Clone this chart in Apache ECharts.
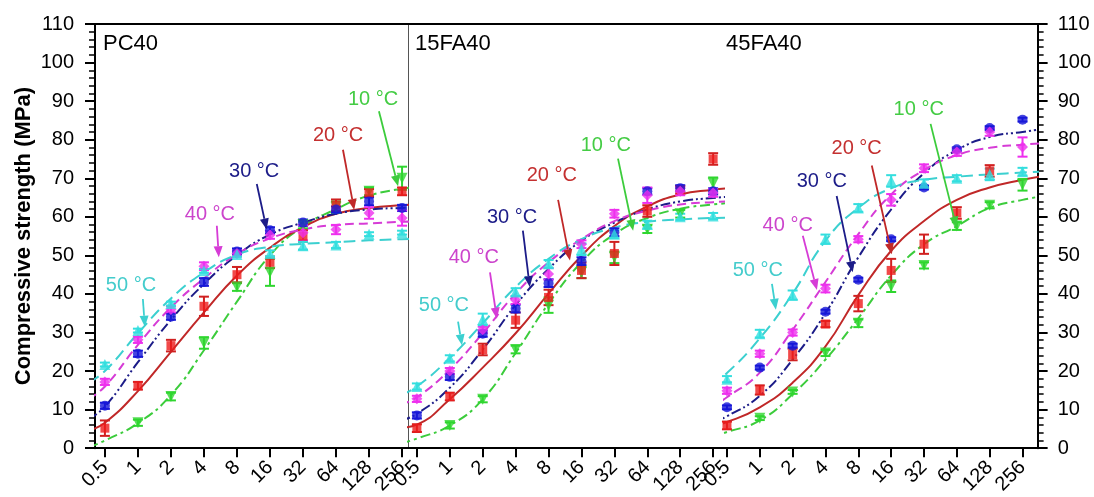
<!DOCTYPE html>
<html><head><meta charset="utf-8">
<script src="https://cdn.jsdelivr.net/npm/echarts@6/dist/echarts.min.js"></script>
<style>html,body{margin:0;padding:0;background:#fff}#c{width:1094px;height:497px}</style>
</head><body><div id="c"></div>
<script>
// ---------- data ----------
const ages = [0.5, 1, 2, 4, 8, 16, 32, 64, 128, 256];
const tickLabels = ['0.5', '1', '2', '4', '8', '16', '32', '64', '128', '256'];
const curveAges = [0.354, 0.5, 1, 2, 4, 8, 16, 32, 64, 128, 256, 362];
const temps = ['10 °C', '20 °C', '30 °C', '40 °C', '50 °C'];
const panelNames = ['PC40', '15FA40', '45FA40'];

// PC40 measured strengths (MPa) at ages
const pc40_10 = [null, 6.6, 13.4, 27.3, 41.8, 45.6, 58.0, 62.5, 66.6, 70.0];
const pc40_20 = [5.2, 16.2, 26.6, 36.8, 45.0, 48.2, 55.0, 63.0, 66.2, 66.6];
const pc40_30 = [11.0, 24.5, 34.1, 43.1, 51.0, 56.5, 58.5, 61.9, 64.0, 62.3];
const pc40_40 = [17.2, 28.1, 36.0, 47.2, 50.5, 55.3, 55.9, 56.7, 61.0, 59.7];
const pc40_50 = [21.7, 30.5, 37.5, 46.0, 50.2, 50.5, 52.5, 52.7, 55.5, 55.9];
const pc40_10_err = [0, 0.8, 1.0, 1.5, 1.0, 3.5, 1.0, 1.5, 1.0, 3.0];
const pc40_20_err = [2.0, 1.0, 1.5, 2.5, 2.0, 1.5, 1.5, 1.5, 1.0, 1.0];
const pc40_30_err = [0.8, 0.8, 0.8, 1.0, 0.8, 0.8, 0.8, 0.8, 1.0, 0.8];
const pc40_40_err = [0.8, 0.8, 0.8, 1.0, 0.8, 1.0, 2.0, 1.2, 1.5, 2.0];
const pc40_50_err = [0.5, 0.5, 0.5, 0.5, 0.5, 0.8, 1.0, 0.8, 0.5, 0.5];
// PC40 fitted curves at curveAges
const pc40_fit_10 = [0.2, 2.0, 6.5, 13.8, 25.4, 38.0, 50.0, 57.5, 62.0, 65.5, 67.3, 67.8];
const pc40_fit_20 = [4.6, 6.6, 14.8, 25.0, 35.2, 44.8, 52.0, 57.3, 60.8, 62.3, 63.0, 63.2];
const pc40_fit_30 = [7.5, 10.8, 22.3, 33.3, 42.6, 50.0, 55.4, 58.5, 60.8, 61.9, 62.3, 62.4];
const pc40_fit_40 = [12.8, 16.0, 26.8, 36.5, 44.0, 50.3, 54.4, 56.7, 57.9, 58.3, 58.7, 58.8];
const pc40_fit_50 = [17.0, 20.0, 29.8, 38.8, 45.6, 50.2, 52.2, 53.0, 53.4, 53.9, 54.2, 54.3];

// 15FA40
const fa15_10 = [null, 5.9, 12.7, 25.6, 37.1, 45.6, 49.5, 56.8, 60.8, 68.7];
const fa15_20 = [5.2, 13.4, 25.6, 33.2, 39.1, 46.1, 50.5, 61.5, 67.0, 75.0];
const fa15_30 = [8.5, 18.5, 29.7, 36.2, 42.8, 48.5, 56.0, 66.6, 67.4, 66.6];
const fa15_40 = [12.8, 20.0, 30.7, 38.4, 45.2, 52.9, 60.8, 65.6, 66.6, 66.2];
const fa15_50 = [16.0, 23.3, 33.4, 40.5, 47.8, 51.6, 55.5, 58.0, 60.0, 60.2];
const fa15_10_err = [0, 0.8, 0.8, 1.0, 2.0, 1.5, 1.5, 1.0, 1.0, 1.5];
const fa15_20_err = [1.0, 1.0, 1.5, 2.0, 2.0, 2.0, 3.0, 1.5, 1.0, 1.5];
const fa15_30_err = [0.8, 0.8, 0.8, 1.0, 1.0, 1.0, 1.0, 0.8, 0.8, 0.8];
const fa15_40_err = [0.8, 0.8, 0.8, 1.0, 1.5, 1.0, 1.0, 2.0, 1.0, 1.0];
const fa15_50_err = [0.8, 0.8, 1.5, 1.0, 1.0, 1.5, 1.0, 1.0, 0.8, 0.8];
const fa15_fit_10 = [1.2, 2.5, 5.9, 12.7, 24.7, 37.5, 48.2, 55.5, 59.7, 62.1, 63.2, 63.6];
const fa15_fit_20 = [5.3, 6.1, 12.7, 20.9, 29.8, 40.1, 49.9, 57.6, 62.7, 65.8, 67.0, 67.4];
const fa15_fit_30 = [7.2, 8.9, 15.7, 25.6, 37.1, 46.5, 53.8, 58.5, 61.9, 64.0, 64.9, 65.2];
const fa15_fit_40 = [11.4, 13.2, 20.4, 29.8, 40.1, 48.2, 54.2, 58.9, 61.6, 63.2, 63.8, 64.0];
const fa15_fit_50 = [13.8, 16.0, 23.4, 32.4, 41.8, 49.1, 54.2, 57.2, 58.7, 59.3, 59.7, 59.8];

// 45FA40
const fa45_10 = [null, 7.8, 14.6, 24.7, 32.4, 42.0, 47.4, 57.6, 63.0, 68.3];
const fa45_20 = [5.9, 15.1, 24.3, 32.2, 37.5, 46.1, 52.9, 61.0, 71.9, null];
const fa45_30 = [10.6, 20.9, 26.6, 35.4, 43.7, 54.2, 67.6, 77.5, 83.0, 85.2];
const fa45_40 = [14.9, 24.5, 30.0, 41.4, 54.2, 64.4, 72.6, 76.8, 82.0, 78.1];
const fa45_50 = [17.9, 29.7, 39.7, 54.2, 62.3, 69.3, 68.7, 70.0, 71.0, 71.7];
const fa45_10_err = [0, 0.5, 0.5, 0.8, 1.0, 1.5, 0.8, 1.0, 0.8, 1.5];
const fa45_20_err = [1.0, 1.2, 1.5, 0.8, 2.0, 3.0, 2.5, 1.5, 1.5, 0];
const fa45_30_err = [0.5, 0.5, 0.5, 0.5, 0.5, 0.5, 0.5, 0.5, 0.5, 0.5];
const fa45_40_err = [0.8, 0.8, 0.8, 1.0, 0.8, 1.5, 1.0, 1.0, 1.0, 2.5];
const fa45_50_err = [0.8, 1.0, 1.2, 1.2, 1.0, 1.5, 1.0, 0.8, 1.5, 1.0];
const fa45_fit_10 = [3.0, 4.2, 7.2, 14.0, 23.0, 33.7, 44.8, 52.9, 57.6, 62.3, 64.4, 65.2];
const fa45_fit_20 = [5.8, 6.8, 10.6, 17.0, 26.4, 39.7, 51.2, 58.9, 64.4, 67.6, 69.6, 70.4];
const fa45_fit_30 = [6.5, 8.3, 13.6, 23.0, 35.0, 49.5, 61.9, 71.3, 77.3, 80.7, 82.0, 82.6];
const fa45_fit_40 = [10.5, 13.2, 19.6, 30.7, 43.1, 55.5, 65.8, 72.1, 76.0, 77.9, 78.7, 79.0];
const fa45_fit_50 = [16.5, 19.5, 28.5, 40.1, 53.8, 62.3, 67.4, 69.6, 70.4, 71.0, 71.5, 71.7];

// ---------- annotations (x in log2(age), y in MPa): text x,y, arrow start x,y, arrow end x,y ----------
const annotPC40 = [
  [7.12, 90.5, 7.30, 87.4, 7.88, 67.9],
  [6.06, 81.0, 6.21, 77.4, 6.55, 61.8],
  [3.52, 71.8, 3.60, 68.5, 3.90, 56.7],
  [2.18, 60.5, 2.39, 57.7, 2.45, 49.5],
  [-0.21, 42.3, 0.15, 38.7, 0.21, 31.5]
];
const annotFA15 = [
  [4.74, 78.5, 5.11, 75.1, 5.57, 56.4],
  [3.10, 70.8, 3.29, 64.4, 3.65, 48.7],
  [1.89, 59.7, 2.22, 56.4, 2.43, 41.8],
  [0.73, 49.5, 1.22, 45.6, 1.43, 33.6],
  [-0.18, 36.9, 0.25, 32.8, 0.37, 26.7]
];
const annotFA45 = [
  [4.84, 87.9, 5.20, 84.1, 5.99, 57.2],
  [2.95, 77.7, 3.41, 73.3, 4.02, 50.3],
  [1.89, 69.2, 2.34, 65.4, 2.83, 45.6],
  [0.85, 57.7, 1.31, 55.1, 1.74, 41.0],
  [-0.06, 46.2, 0.37, 42.6, 0.49, 35.9]
];

// ---------- styling ----------
const FONT = '"Liberation Sans", Arial, sans-serif';
const markerColors = ['#2fd62f', '#ee1c1c', '#1818d8', '#ee2fee', '#33dede'];
const lineColors = ['#3ccc3c', '#c02828', '#1c1c88', '#d63cd6', '#3cd0d0'];
const textColors = ['#44cc44', '#c43030', '#1c1c88', '#cc44cc', '#44cccc'];
const symbols = ['triangle', 'rect', 'circle', 'diamond', 'triangle'];
const symbolRot = [180, 0, 0, 0, 0];
const symbolSizes = [11, 9, 10, 11, 11];
const dashes = [[10, 4, 3, 4], 'solid', [10, 3, 2, 3, 2, 3], [9, 5], [12, 6]];

const panels = [
  { pts: [pc40_10, pc40_20, pc40_30, pc40_40, pc40_50],
    errs: [pc40_10_err, pc40_20_err, pc40_30_err, pc40_40_err, pc40_50_err],
    fits: [pc40_fit_10, pc40_fit_20, pc40_fit_30, pc40_fit_40, pc40_fit_50],
    annot: annotPC40 },
  { pts: [fa15_10, fa15_20, fa15_30, fa15_40, fa15_50],
    errs: [fa15_10_err, fa15_20_err, fa15_30_err, fa15_40_err, fa15_50_err],
    fits: [fa15_fit_10, fa15_fit_20, fa15_fit_30, fa15_fit_40, fa15_fit_50],
    annot: annotFA15 },
  { pts: [fa45_10, fa45_20, fa45_30, fa45_40, fa45_50],
    errs: [fa45_10_err, fa45_20_err, fa45_30_err, fa45_40_err, fa45_50_err],
    fits: [fa45_fit_10, fa45_fit_20, fa45_fit_30, fa45_fit_40, fa45_fit_50],
    annot: annotFA45 }
];

const gridBoxes = [
  { left: 95, top: 24, width: 313, height: 429 },
  { left: 408, top: 24, width: 316, height: 429 },
  { left: 724, top: 24, width: 314, height: 429 }
];
const xRanges = [[-1.30, 8.18], [-1.27, 8.33], [-1.09, 8.46]];
const titlePos = [103, 415, 726];

const tickPos = ages.map(a => Math.log2(a));
function fmtTick(v) {
  const i = Math.round(v) + 1;
  return Math.abs(v - Math.round(v)) < 1e-6 && tickLabels[i] !== undefined ? tickLabels[i] : '';
}

const xAxes = [], xTopAxes = [], yAxes = [], series = [], titles = [];

panels.forEach((p, g) => {
  xAxes.push({
    type: 'value', gridIndex: g, min: xRanges[g][0], max: xRanges[g][1], position: 'bottom',
    axisLine: { show: true, onZero: false, lineStyle: { color: '#000', width: 2 } },
    axisTick: { show: true, customValues: tickPos, length: 9, lineStyle: { color: '#000', width: 2 } },
    axisLabel: { show: true, customValues: tickPos, rotate: 45, margin: 16, formatter: fmtTick,
      fontSize: 20, color: '#000', fontFamily: FONT },
    splitLine: { show: false }
  });
  xTopAxes.push({
    type: 'value', gridIndex: g, min: xRanges[g][0], max: xRanges[g][1], position: 'top',
    axisLine: { show: true, onZero: false, lineStyle: { color: '#000', width: 2 } },
    axisTick: { show: false }, axisLabel: { show: false }, splitLine: { show: false }
  });
  const yBase = {
    type: 'value', gridIndex: g, min: 0, max: 110, interval: 10, splitLine: { show: false }
  };
  if (g === 0) {
    yAxes.push(Object.assign({}, yBase, {
      position: 'left',
      name: 'Compressive strength (MPa)', nameLocation: 'middle', nameGap: 60,
      nameTextStyle: { fontSize: 22, fontWeight: 'bold', color: '#000', fontFamily: FONT },
      axisLine: { show: true, onZero: false, lineStyle: { color: '#000', width: 2 } },
      axisTick: { show: true, length: 10, lineStyle: { color: '#000', width: 2 } },
      minorTick: { show: true, splitNumber: 5, length: 6, lineStyle: { color: '#000', width: 1.5 } },
      axisLabel: { fontSize: 20, color: '#000', fontFamily: FONT, margin: 21 }
    }));
  } else if (g === 1) {
    yAxes.push(Object.assign({}, yBase, {
      position: 'left',
      axisLine: { show: true, onZero: false, lineStyle: { color: '#555', width: 1 } },
      axisTick: { show: false }, axisLabel: { show: false }
    }));
  } else {
    yAxes.push(Object.assign({}, yBase, {
      position: 'right',
      axisLine: { show: true, onZero: false, lineStyle: { color: '#000', width: 2 } },
      axisTick: { show: true, length: 10, lineStyle: { color: '#000', width: 2 } },
      minorTick: { show: true, splitNumber: 5, length: 6, lineStyle: { color: '#000', width: 1.5 } },
      axisLabel: { fontSize: 20, color: '#000', fontFamily: FONT, margin: 20 }
    }));
  }
  titles.push({
    text: panelNames[g], left: titlePos[g], top: 33, padding: 0,
    textStyle: { fontSize: 22, fontWeight: 'normal', color: '#000', fontFamily: FONT }
  });

  for (let t = 0; t < 5; t++) {
    // fitted curve
    series.push({
      type: 'line', xAxisIndex: g, yAxisIndex: g, showSymbol: false, silent: true,
      smooth: 0.5, z: 2,
      data: curveAges.map((a, i) => [Math.log2(a), p.fits[t][i]]),
      lineStyle: { color: lineColors[t], width: 2, type: dashes[t] }
    });
    // error bars
    const errData = [];
    ages.forEach((a, i) => { if (p.pts[t][i] != null) errData.push([Math.log2(a), p.pts[t][i], p.errs[t][i]]); });
    const ec = t === 1 ? '#d02020' : markerColors[t];
    series.push({
      type: 'custom', xAxisIndex: g, yAxisIndex: g, z: 3, silent: true,
      encode: { x: 0, y: 1 }, data: errData,
      renderItem: (params, api) => {
        const x = api.value(0), y = api.value(1), e = api.value(2);
        if (!e) return null;
        const lo = api.coord([x, y - e]), hi = api.coord([x, y + e]);
        const w = 5;
        const st = { stroke: ec, lineWidth: 2 };
        return { type: 'group', children: [
          { type: 'line', shape: { x1: lo[0], y1: lo[1], x2: hi[0], y2: hi[1] }, style: st },
          { type: 'line', shape: { x1: lo[0] - w, y1: lo[1], x2: lo[0] + w, y2: lo[1] }, style: st },
          { type: 'line', shape: { x1: hi[0] - w, y1: hi[1], x2: hi[0] + w, y2: hi[1] }, style: st }
        ] };
      }
    });
    // markers
    const ptData = [];
    ages.forEach((a, i) => { if (p.pts[t][i] != null) ptData.push([Math.log2(a), p.pts[t][i]]); });
    series.push({
      type: 'scatter', xAxisIndex: g, yAxisIndex: g, z: 4, silent: true,
      symbol: symbols[t], symbolRotate: symbolRot[t], symbolSize: symbolSizes[t],
      itemStyle: { color: markerColors[t] }, data: ptData
    });
  }
  // annotations
  series.push({
    type: 'custom', xAxisIndex: g, yAxisIndex: g, z: 10, silent: true,
    encode: { x: 0, y: 1 },
    data: p.annot.map((a, i) => a.concat([i])),
    renderItem: (params, api) => {
      const i = api.value(6);
      const tp = api.coord([api.value(0), api.value(1)]);
      const s = api.coord([api.value(2), api.value(3)]);
      const e = api.coord([api.value(4), api.value(5)]);
      const ang = Math.atan2(e[1] - s[1], e[0] - s[0]);
      const L = 11, W = 4.5;
      const bx = e[0] - L * Math.cos(ang), by = e[1] - L * Math.sin(ang);
      const head = [[e[0], e[1]],
        [bx - W * Math.sin(ang), by + W * Math.cos(ang)],
        [bx + W * Math.sin(ang), by - W * Math.cos(ang)]];
      return { type: 'group', children: [
        { type: 'text', x: tp[0], y: tp[1], style: { text: temps[i], fill: textColors[i],
          font: '20px ' + FONT, align: 'center', verticalAlign: 'middle',
          textAlign: 'center', textVerticalAlign: 'middle' } },
        { type: 'line', shape: { x1: s[0], y1: s[1], x2: bx, y2: by },
          style: { stroke: lineColors[i], lineWidth: 1.8 } },
        { type: 'polygon', shape: { points: head }, style: { fill: lineColors[i] } }
      ] };
    }
  });
});

const chart = echarts.init(document.getElementById('c'), null, { renderer: 'canvas' });
chart.setOption({
  backgroundColor: '#fff',
  animation: false,
  title: titles,
  grid: gridBoxes,
  xAxis: xAxes.concat(xTopAxes),
  yAxis: yAxes,
  series: series
});
</script>
</body></html>
